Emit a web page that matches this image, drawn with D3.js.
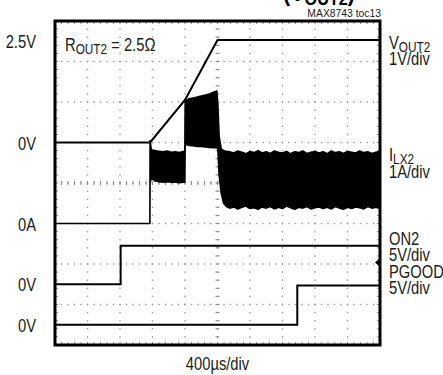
<!DOCTYPE html>
<html><head><meta charset="utf-8">
<script src="https://cdn.jsdelivr.net/npm/d3@7"></script>
<style>
body{margin:0;background:#fff}
svg{display:block}
text{font-family:'Liberation Sans',Arial,sans-serif;fill:#1a1a1a}
</style></head><body>
<svg id="chart" width="443" height="375"></svg>
<script>
// Horizontal axis: time in microseconds, 400 us/div over 10 divisions
const timeDomain = [0, 4000];
const divX = 10, divY = 8;

// V_OUT2 soft-start ramp (volts)
const voutTime  = [0, 1170, 1600, 2000, 4000];
const voutValue = [0, 0, 1.05, 2.53, 2.53];

// I_LX2 inductor current, switching envelope (amps): lower and upper edges
const ilxTime = [0, 1168, 1170, 1185, 1230, 1280, 1330, 1380, 1430, 1480, 1530, 1580, 1598,
  1602, 1650, 1700, 1750, 1800, 1850, 1900, 1950, 1992,
  2004, 2020, 2045, 2075, 2110,
  2150, 2200, 2250, 2300, 2350, 2400, 2450, 2500, 2550, 2600, 2650, 2700, 2750, 2800,
  2850, 2900, 2950, 3000, 3050, 3100, 3150, 3200, 3250, 3300, 3350, 3400, 3450, 3500,
  3550, 3600, 3650, 3700, 3750, 3800, 3850, 3900, 3950, 4000];
const ilxLow = [0, 0, 1.0, 1.12, 1.05, 1.03, 1.02, 1.03, 1.02, 1.02, 1.01, 1.02, 1.02,
  1.95, 1.93, 1.92, 1.9, 1.9, 1.89, 1.88, 1.87, 1.87,
  1.85, 1.2, 0.75, 0.5, 0.42,
  0.38, 0.41, 0.36, 0.40, 0.43, 0.37, 0.39, 0.35, 0.41, 0.38, 0.42, 0.36, 0.40, 0.37,
  0.43, 0.39, 0.35, 0.40, 0.38, 0.42, 0.36, 0.39, 0.41, 0.37, 0.40, 0.36, 0.42, 0.38,
  0.35, 0.40, 0.37, 0.41, 0.39, 0.36, 0.42, 0.38, 0.40, 0.37];
const ilxHigh = [0, 0, 2.05, 1.82, 1.8, 1.78, 1.77, 1.79, 1.76, 1.77, 1.75, 1.78, 1.8,
  3.02, 3.08, 3.1, 3.12, 3.15, 3.17, 3.2, 3.24, 3.27,
  2.95, 2.15, 1.85, 1.8, 1.78,
  1.77, 1.74, 1.79, 1.76, 1.72, 1.78, 1.75, 1.8, 1.74, 1.77, 1.73, 1.79, 1.76, 1.74,
  1.78, 1.72, 1.77, 1.75, 1.79, 1.73, 1.76, 1.78, 1.74, 1.77, 1.72, 1.79, 1.75, 1.77,
  1.73, 1.78, 1.76, 1.74, 1.79, 1.75, 1.77, 1.73, 1.76, 1.78];

// ON2 enable input (volts)
const on2Time  = [0, 808, 808, 4000];
const on2Value = [0, 0, 4.75, 4.75];
const on2Trigger = 2.7;

// PGOOD output (volts)
const pgoodTime  = [0, 2982, 2982, 4000];
const pgoodValue = [0, 0, 4.85, 4.85];

// Ground position of each channel (divisions above the bottom) and units per division
const chOffset = {vout: 5, ilx: 3, on2: 1.5, pgood: 0.5};
const chScale  = {vout: 1, ilx: 1, on2: 5, pgood: 5};

// Left-side reference labels: [text, channel, value]
const refLabels = [["2.5V", "vout", 2.5], ["0V", "vout", 0], ["0A", "ilx", 0], ["0V", "on2", 0], ["0V", "pgood", 0]];

const svg = d3.select("#chart");
const L = 55, R = 380, T = 21, B = 345;
const x = d3.scaleLinear().domain(timeDomain).range([L, R]);
const xd = d3.scaleLinear().domain([0, divX]).range([L, R]);
const yd = d3.scaleLinear().domain([0, divY]).range([B, T]);
const yCh = (ch) => (v) => yd(chOffset[ch] + v / chScale[ch]);

// ---- graticule ----
const grid = svg.append("g");
const sub = 5;
const dotColor = "#9a9a9a", tickColor = "#8a8a8a";
for (let i = 1; i < divX; i++) {
  for (let j = 0; j <= divY * sub; j++) {
    grid.append("rect").attr("x", xd(i) - 0.7).attr("y", yd(j / sub) - 0.7)
      .attr("width", 1.4).attr("height", 1.4).attr("fill", dotColor);
  }
}
for (let i = 1; i < divY; i++) {
  for (let j = 0; j <= divX * sub; j++) {
    grid.append("rect").attr("x", xd(j / sub) - 0.7).attr("y", yd(i) - 0.7)
      .attr("width", 1.4).attr("height", 1.4).attr("fill", dotColor);
  }
}
// minor ticks on the centre axes and along the frame
for (let j = 0; j <= divY * sub; j++) {
  const yy = yd(j / sub);
  grid.append("line").attr("x1", xd(5) - 2).attr("x2", xd(5) + 2).attr("y1", yy).attr("y2", yy)
    .attr("stroke", tickColor).attr("stroke-width", 1);
  grid.append("line").attr("x1", L).attr("x2", L + 3).attr("y1", yy).attr("y2", yy)
    .attr("stroke", tickColor).attr("stroke-width", 1);
  grid.append("line").attr("x1", R - 3).attr("x2", R).attr("y1", yy).attr("y2", yy)
    .attr("stroke", tickColor).attr("stroke-width", 1);
}
for (let j = 0; j <= divX * sub; j++) {
  const xx = xd(j / sub);
  grid.append("line").attr("x1", xx).attr("x2", xx).attr("y1", yd(4) - 2).attr("y2", yd(4) + 2)
    .attr("stroke", tickColor).attr("stroke-width", 1);
  grid.append("line").attr("x1", xx).attr("x2", xx).attr("y1", B - 3).attr("y2", B)
    .attr("stroke", tickColor).attr("stroke-width", 1);
  grid.append("line").attr("x1", xx).attr("x2", xx).attr("y1", T).attr("y2", T + 3)
    .attr("stroke", tickColor).attr("stroke-width", 1);
}

// ---- traces ----
svg.append("clipPath").attr("id", "plotClip").append("rect")
  .attr("x", L).attr("y", T).attr("width", R - L).attr("height", B - T);
const traces = svg.append("g").attr("clip-path", "url(#plotClip)");

const ilx = ilxTime.map((t, i) => ({t, lo: ilxLow[i], hi: ilxHigh[i]}));
const yI = yCh("ilx");
traces.append("path").datum(ilx)
  .attr("d", d3.area().x(d => x(d.t)).y0(d => yI(d.lo)).y1(d => yI(d.hi)))
  .attr("fill", "#000").attr("stroke", "#000").attr("stroke-width", 1.6).attr("stroke-linejoin", "round");

function drawLine(times, values, ch) {
  const yv = yCh(ch);
  traces.append("path").datum(times.map((t, i) => [t, values[i]]))
    .attr("d", d3.line().x(d => x(d[0])).y(d => yv(d[1])))
    .attr("fill", "none").attr("stroke", "#000").attr("stroke-width", 2);
}
drawLine(voutTime, voutValue, "vout");
drawLine(on2Time, on2Value, "on2");
drawLine(pgoodTime, pgoodValue, "pgood");

// ON2 trigger-level marker
const ty = yCh("on2")(on2Trigger);
svg.append("path").attr("d", `M${R - 5},${ty} L${R - 1},${ty - 3.5} L${R - 1},${ty + 3.5} Z`).attr("fill", "#000");

// ---- frame ----
svg.append("rect").attr("x", L).attr("y", T).attr("width", R - L).attr("height", B - T)
  .attr("fill", "none").attr("stroke", "#000").attr("stroke-width", 3);

// ---- text (condensed by a horizontal scale) ----
const fs = 18, squeeze = 0.82;
function label(xp, yp, anchor, size, sq = squeeze) {
  return svg.append("text")
    .attr("transform", `translate(${xp},${yp}) scale(${sq},1)`)
    .attr("text-anchor", anchor).attr("font-size", size);
}
refLabels.forEach(([txt, ch, v]) => {
  label(36, yCh(ch)(v) + 7, "end", fs).text(txt);
});

function subLabel(xp, yp, main, subTxt, rest, size) {
  const t = label(xp, yp, "start", size);
  t.append("tspan").text(main);
  t.append("tspan").attr("font-size", size * 0.8).attr("dy", 3).text(subTxt);
  if (rest) t.append("tspan").attr("dy", -3).text(rest);
  return t;
}
subLabel(65, 51, "R", "OUT2", " = 2.5\u03A9", fs);

const rx = 389;
subLabel(rx, 49, "V", "OUT2", null, fs);
label(rx, 65, "start", fs).text("1V/div");
subLabel(rx, 161, "I", "LX2", null, fs);
label(rx, 178, "start", fs).text("1A/div");
label(rx, 245, "start", fs).text("ON2");
label(rx, 261, "start", fs).text("5V/div");
label(rx, 278, "start", fs).text("PGOOD");
label(rx, 294, "start", fs).text("5V/div");

label((L + R) / 2, 370, "middle", fs).text("400\u00B5s/div");

label(381, 17, "end", 11.5, 0.9).text("MAX8743 toc13");

// heading line above the plot (mostly outside the page)
const head = label(283, 1, "start", 24, 0.9).attr("font-weight", "bold").style("fill", "#000");
head.append("tspan").text("(V");
head.append("tspan").attr("font-size", 18).attr("dy", 4).text("OUT2");
head.append("tspan").attr("dy", -4).text(")");
</script>
</body></html>
